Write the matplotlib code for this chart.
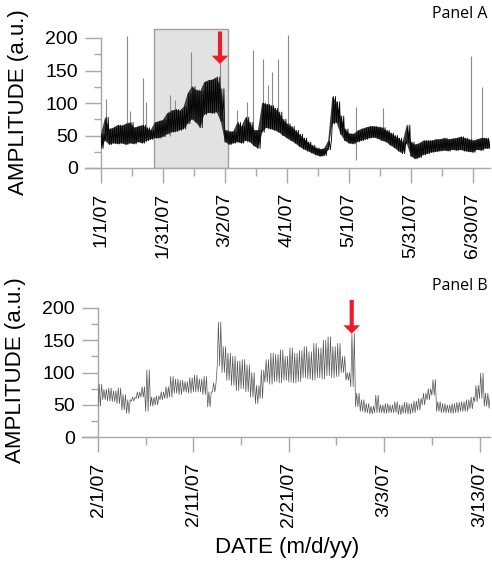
import numpy as np
import matplotlib
matplotlib.use("Agg")
import matplotlib.pyplot as plt
import matplotlib.dates as mdates
from matplotlib.patches import Rectangle
from matplotlib.ticker import FixedLocator, FuncFormatter
import datetime as dt

plt.rcParams['font.family'] = ['Liberation Sans', 'DejaVu Sans']

# ---- Panel A: 2-day bins, lower / upper edge of the dense trace (a.u.)
a_start = dt.datetime(2007, 1, 1)
a_days = np.arange(0, 189, 2)
a_lo = [30, 42, 36, 38, 37, 38, 36, 38, 37, 40, 38, 42, 44, 46, 46, 48, 52, 55, 56, 58,
        60, 68, 75, 70, 62, 82, 85, 84, 86, 72, 40, 36, 38, 40, 38, 42, 40, 34, 30, 55,
        62, 60, 58, 55, 50, 46, 42, 38, 33, 29, 26, 23, 20, 18, 19, 28, 68, 70, 52, 42,
        38, 37, 40, 42, 44, 46, 47, 45, 42, 40, 35, 31, 26, 22, 38, 18, 14, 16, 20, 22,
        24, 25, 26, 27, 26, 28, 27, 28, 26, 25, 24, 28, 27, 30, 30]
a_hi = [52, 78, 60, 62, 66, 65, 68, 70, 62, 64, 66, 62, 58, 70, 72, 74, 84, 88, 90, 88,
        94, 115, 125, 120, 118, 132, 135, 136, 140, 122, 58, 56, 56, 70, 64, 78, 70, 58, 58, 100,
        98, 96, 92, 86, 75, 68, 64, 58, 52, 46, 40, 35, 31, 29, 30, 42, 110, 102, 80, 60,
        53, 52, 57, 60, 62, 64, 64, 63, 62, 58, 54, 50, 46, 40, 66, 40, 36, 38, 42, 42,
        42, 44, 44, 46, 44, 45, 46, 48, 46, 44, 42, 44, 46, 46, 44]

# isolated spikes in panel A (day offset, bottom, top)
a_spike_day = [2.2, 12.4, 13.8, 20.5, 21.6, 33.4, 35.8, 43.5, 57.5, 65.9, 70.8,
               73.7, 78.2, 80.6, 82.9, 85.5, 90.6, 123.3, 136.3, 179.3, 184.4]
a_spike_lo = [40, 40, 40, 40, 40, 50, 55, 80, 90, 40, 40,
              40, 60, 60, 60, 60, 45, 12, 45, 30, 30]
a_spike_hi = [106, 203, 88, 138, 101, 112, 104, 178, 162, 89, 101,
              181, 167, 128, 147, 167, 205, 94, 92, 172, 125]

# shaded window and arrow in panel A (day offsets)
a_box = (25.5, 61.6, 214)
a_arrow_day = 57.6

# ---- Panel B: half-day bins, lower / upper edge of trace (a.u.)
b_start = dt.datetime(2007, 2, 1)
b_days = np.arange(0, 41.01, 0.5)
b_lo = [48, 58, 56, 55, 52, 42, 37, 56, 60, 62, 40, 48, 50, 58, 60, 62, 68, 66, 70, 68,
        70, 70, 66, 47, 70, 110, 100, 88, 80, 72, 75, 70, 62, 52, 60, 85, 82, 86, 84, 88,
        85, 84, 86, 92, 90, 88, 92, 90, 95, 92, 94, 100, 88, 78, 47, 40, 38, 36, 38, 38,
        37, 38, 38, 35, 37, 36, 38, 42, 50, 58, 65, 40, 38, 38, 37, 38, 40, 40, 44, 55,
        60, 48, 45]
b_hi = [82, 74, 76, 72, 76, 66, 58, 62, 70, 78, 104, 62, 64, 70, 78, 94, 90, 88, 86, 92,
        96, 90, 94, 70, 84, 178, 140, 130, 125, 118, 120, 112, 100, 80, 104, 120, 130, 128, 135, 125,
        138, 130, 134, 140, 132, 145, 138, 150, 155, 140, 145, 125, 100, 160, 68, 58, 52, 48, 65, 50,
        52, 50, 55, 50, 54, 52, 56, 60, 68, 75, 89, 55, 52, 50, 52, 54, 55, 58, 62, 80,
        99, 68, 62]
b_arrow_day = 26.6

W, H = 492, 563
fig = plt.figure(figsize=(W / 100, H / 100), dpi=100)

GRAY = '#a8a8a8'


def to_num(start, days):
    return mdates.date2num(start) + np.asarray(days, dtype=float)


def date_fmt(x, pos):
    d = mdates.num2date(x)
    return f"{d.month}/{d.day}/{d:%y}"


def zigzag(start, days, lo, hi, bin_w, n):
    # trace that swings between the lower and upper edge n times per bin
    xs, ys = [], []
    for d, l, h in zip(days, lo, hi):
        for k in range(n):
            xs.append(d + bin_w * k / n)
            ys.append(l if k % 2 == 0 else h)
    return to_num(start, xs), ys


def style_axes(ax, start, step, nmaj, xmax):
    for s in ['top', 'right']:
        ax.spines[s].set_visible(False)
    for s in ['left', 'bottom']:
        ax.spines[s].set_color(GRAY)
        ax.spines[s].set_linewidth(1)
    ax.spines['left'].set_bounds(0, 200)
    ax.set_ylim(0, 215)
    ax.set_yticks([0, 50, 100, 150, 200])
    ax.set_yticks([25, 75, 125, 175], minor=True)
    ax.set_xlim(to_num(start, 0), to_num(start, xmax))
    ax.xaxis.set_major_locator(FixedLocator(to_num(start, np.arange(nmaj) * step)))
    ax.xaxis.set_minor_locator(FixedLocator(to_num(start, np.arange(nmaj) * step + step / 2)))
    ax.xaxis.set_major_formatter(FuncFormatter(date_fmt))
    ax.tick_params(axis='y', which='major', length=11.5, width=1, color=GRAY, labelsize=14, pad=5)
    ax.tick_params(axis='y', which='minor', length=5, width=1, color=GRAY)
    ax.tick_params(axis='x', which='major', length=11, width=1, color=GRAY, labelsize=14,
                   pad=7, labelrotation=90)
    ax.tick_params(axis='x', which='minor', length=6, width=1, color=GRAY)
    # the x axis line runs under the y tick labels a little
    ax.plot([-0.04, 0], [0, 0], transform=ax.transAxes, color=GRAY, lw=1, clip_on=False)


# ---------------- Panel A
axA = fig.add_axes([101 / W, 395 / H, 389 / W, 139.75 / H])
style_axes(axA, a_start, 30, 7, 188.3)
x0, x1, top = a_box
axA.add_patch(Rectangle((to_num(a_start, x0), 0), x1 - x0, top,
                        facecolor='#e2e2e2', edgecolor='#a0a0a0', lw=1, zorder=0))
axA.vlines(to_num(a_start, a_spike_day), a_spike_lo, a_spike_hi, color='#8a8a8a', lw=0.8, zorder=2)
axA.fill_between(to_num(a_start, a_days), a_lo, a_hi, facecolor='#3c3c3c', lw=0, zorder=3)
zx, zy = zigzag(a_start, a_days, a_lo, a_hi, 2, 4)
axA.plot(zx, zy, color='#000000', lw=0.6, zorder=4)
axA.annotate('', xy=(to_num(a_start, a_arrow_day), 160), xytext=(to_num(a_start, a_arrow_day), 210),
             arrowprops=dict(facecolor='#ee1c24', edgecolor='none', width=3, headwidth=12, headlength=6),
             annotation_clip=False, zorder=5)

# ---------------- Panel B
axB = fig.add_axes([98 / W, 125.7 / H, 392 / W, 139.3 / H])
style_axes(axB, b_start, 10, 5, 41.1)
zx, zy = zigzag(b_start, b_days, b_lo, b_hi, 0.5, 4)
axB.plot(zx, zy, color='#555555', lw=0.5, zorder=3)
axB.annotate('', xy=(to_num(b_start, b_arrow_day), 160), xytext=(to_num(b_start, b_arrow_day), 212),
             arrowprops=dict(facecolor='#ee1c24', edgecolor='none', width=3, headwidth=12, headlength=6),
             annotation_clip=False, zorder=5)

# ---------------- texts
fig.text(488 / W, 1 - 14 / H, 'Panel A', ha='right', va='center', fontsize=11.5, family='Open Sans')
fig.text(488 / W, 1 - 286 / H, 'Panel B', ha='right', va='center', fontsize=11.5, family='Open Sans')
fig.text(18.5 / W, 1 - 102.5 / H, 'AMPLITUDE (a.u.)', rotation=90, ha='center', va='center', fontsize=16)
fig.text(15.5 / W, 1 - 370 / H, 'AMPLITUDE (a.u.)', rotation=90, ha='center', va='center', fontsize=16)
fig.text(287.5 / W, 1 - 548 / H, 'DATE (m/d/yy)', ha='center', va='center', fontsize=16)

fig.savefig('out.png', dpi=100)
